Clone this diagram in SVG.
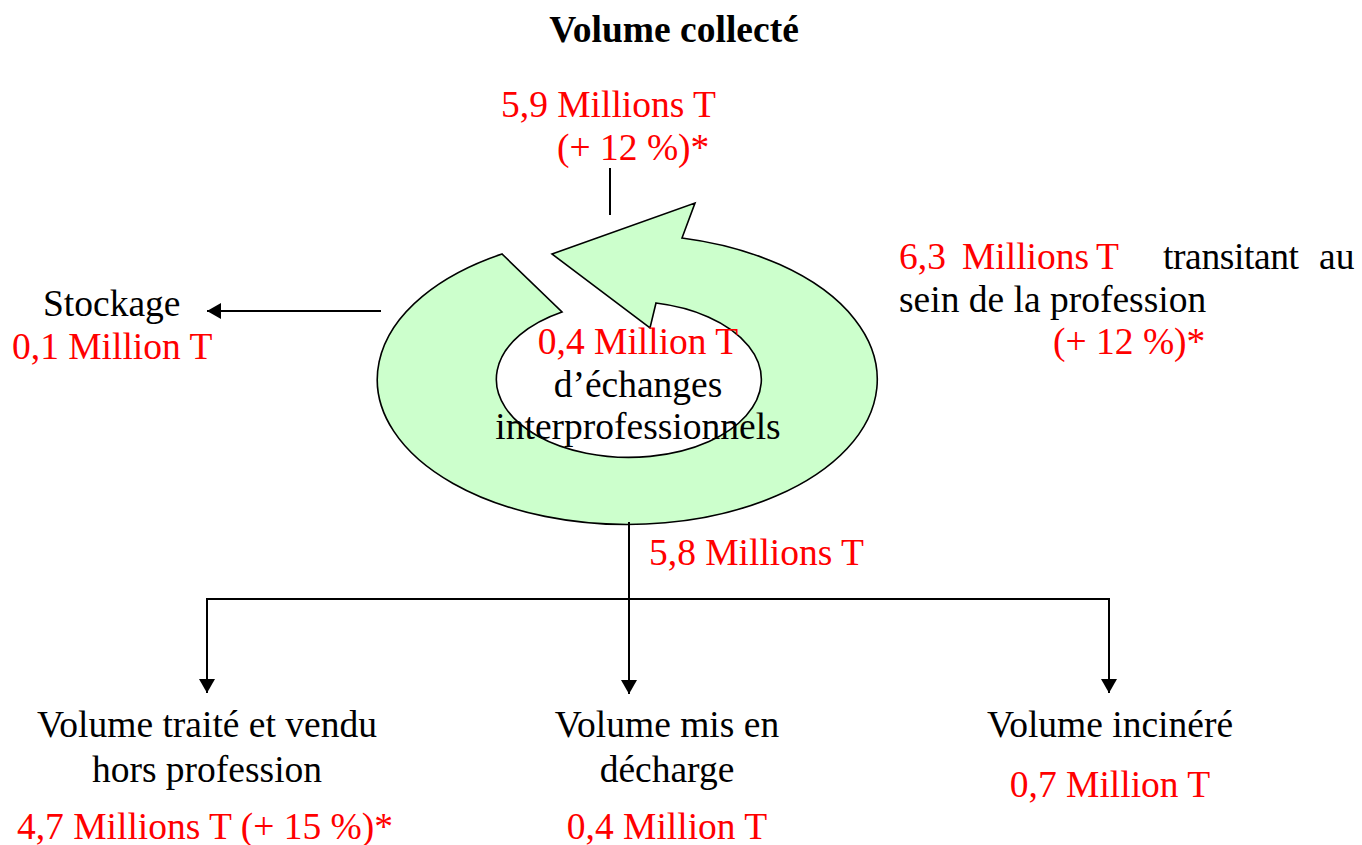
<svg xmlns="http://www.w3.org/2000/svg" width="1362" height="845" viewBox="0 0 1362 845">
<style>
text{font-family:"Liberation Serif","Times New Roman",serif;font-size:37.5px;fill:#000}
.r{fill:#ff0000}
.b{font-weight:bold}
.m{text-anchor:middle}
.ln{stroke:#000;stroke-width:2;fill:none}
</style>
<defs>
<marker id="ah" viewBox="0 0 14 16" refX="14" refY="8" markerWidth="14" markerHeight="16" markerUnits="userSpaceOnUse" orient="auto">
<path d="M0,0 L14,8 L0,16 Z" fill="#000"/>
</marker>
</defs>
<rect width="1362" height="845" fill="#fff"/>
<g id="title"><text class="b m" x="674" y="42">Volume collecté</text></g>
<g id="collecte">
<text class="r" x="501" y="117">5,9 Millions T</text>
<text class="r" x="557" y="160">(+ 12 %)*</text>
</g>
<g id="cycle">
<path d="M682,238 A250,145 0 1 1 502,254 L562,312 A132.5,78 0 1 0 656,303 L650,328 L552,254 L695,203 Z" fill="#ccffcc" stroke="#000" stroke-width="1.6" stroke-linejoin="miter"/>
<text class="r m" x="638" y="354">0,4 Million T</text>
<text class="m" x="638" y="397">d’échanges</text>
<text class="m" x="638" y="439">interprofessionnels</text>
</g>
<g id="stockage">
<text x="43" y="316">Stockage</text>
<text class="r" x="12" y="359">0,1 Million T</text>
</g>
<g id="transit">
<text class="r" x="899" y="269">6,3</text>
<text class="r" x="962" y="269">Millions</text>
<text class="r" x="1096" y="269">T</text>
<text x="1163" y="269" textLength="136" lengthAdjust="spacing">transitant</text>
<text x="1319" y="269">au</text>
<text x="899" y="312">sein de la profession</text>
<text class="r" x="1053" y="354">(+ 12 %)*</text>
</g>
<g id="sortie"><text class="r" x="649" y="565">5,8 Millions T</text></g>
<g id="traite">
<text class="m" x="207" y="737">Volume traité et vendu</text>
<text class="m" x="207" y="782">hors profession</text>
<text class="r m" x="205" y="839">4,7 Millions T (+ 15 %)*</text>
</g>
<g id="decharge">
<text class="m" x="667" y="737">Volume mis en</text>
<text class="m" x="667" y="782">décharge</text>
<text class="r m" x="667" y="839">0,4 Million T</text>
</g>
<g id="incinere">
<text class="m" x="1110" y="737">Volume incinéré</text>
<text class="r m" x="1110" y="797">0,7 Million T</text>
</g>
<g id="connectors">
<line class="ln" x1="610" y1="168" x2="610" y2="215"/>
<line class="ln" x1="381" y1="311" x2="207" y2="311" marker-end="url(#ah)"/>
<line class="ln" x1="629" y1="522" x2="629" y2="694" marker-end="url(#ah)"/>
<line class="ln" x1="206" y1="599" x2="1110" y2="599"/>
<line class="ln" x1="207" y1="598" x2="207" y2="693" marker-end="url(#ah)"/>
<line class="ln" x1="1109" y1="598" x2="1109" y2="693" marker-end="url(#ah)"/>
</g>
</svg>
